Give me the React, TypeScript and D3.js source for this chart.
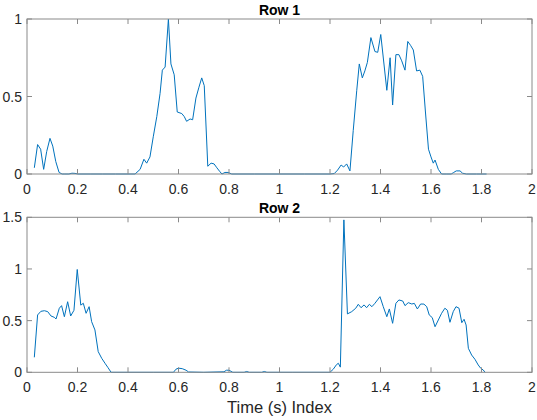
import React from 'react';
import * as d3 from 'd3';

// Sampled signal, row 1 (time in seconds, normalized amplitude)
const row1Time = [
  0.029, 0.042, 0.054, 0.066, 0.078, 0.091, 0.102, 0.114, 0.127, 0.139,
  0.150, 0.166, 0.178, 0.190, 0.202, 0.25, 0.30, 0.35, 0.40, 0.428,
  0.448, 0.463, 0.474, 0.487, 0.500, 0.514, 0.527, 0.536, 0.547, 0.560,
  0.570, 0.583, 0.595, 0.613, 0.623, 0.632, 0.646, 0.656, 0.669, 0.681,
  0.692, 0.702, 0.716, 0.729, 0.741, 0.752, 0.764, 0.772, 0.784, 0.796,
  0.811, 0.9, 1.0, 1.1, 1.200, 1.217, 1.230, 1.244, 1.254, 1.266,
  1.279, 1.292, 1.306, 1.316, 1.328, 1.338, 1.348, 1.362, 1.378, 1.389,
  1.401, 1.425, 1.438, 1.448, 1.461, 1.473, 1.484, 1.497, 1.508, 1.519,
  1.530, 1.543, 1.556, 1.567, 1.578, 1.590, 1.600, 1.609, 1.616, 1.629,
  1.642, 1.66, 1.68, 1.69, 1.70, 1.715, 1.725, 1.74, 1.78, 1.82,
];
const row1Value = [
  0.04, 0.19, 0.16, 0.03, 0.145, 0.23, 0.18, 0.08, 0.01, 0.0,
  0.0, 0.0, 0.005, 0.004, 0.0, 0.0, 0.0, 0.0, 0.0, 0.0,
  0.03, 0.095, 0.07, 0.11, 0.24, 0.37, 0.52, 0.67, 0.69, 1.0,
  0.71, 0.64, 0.40, 0.39, 0.37, 0.34, 0.355, 0.35, 0.49, 0.56,
  0.62, 0.57, 0.05, 0.07, 0.065, 0.04, 0.015, 0.0, 0.01, 0.01,
  0.0, 0.0, 0.0, 0.0, 0.0, 0.003, 0.025, 0.058, 0.045, 0.065,
  0.02, 0.28, 0.54, 0.71, 0.62, 0.665, 0.72, 0.88, 0.79, 0.785,
  0.90, 0.54, 0.75, 0.445, 0.77, 0.77, 0.73, 0.67, 0.855, 0.83,
  0.80, 0.665, 0.67, 0.63, 0.40, 0.16, 0.11, 0.07, 0.09, 0.03,
  0.0, 0.0, 0.0, 0.01, 0.02, 0.02, 0.005, 0.0, 0.0, 0.0,
];

// Sampled signal, row 2
const row2Time = [
  0.029, 0.042, 0.055, 0.069, 0.082, 0.095, 0.108, 0.115, 0.128, 0.137,
  0.148, 0.161, 0.173, 0.186, 0.199, 0.213, 0.223, 0.234, 0.246, 0.256,
  0.269, 0.282, 0.296, 0.309, 0.320, 0.333, 0.40, 0.50, 0.58, 0.59,
  0.60, 0.615, 0.63, 0.64, 0.70, 0.78, 0.79, 0.80, 0.815, 0.86,
  0.87, 0.88, 0.93, 0.94, 0.95, 1.05, 1.200, 1.213, 1.226, 1.233,
  1.241, 1.255, 1.269, 1.286, 1.302, 1.312, 1.323, 1.335, 1.345, 1.356,
  1.366, 1.378, 1.388, 1.398, 1.411, 1.425, 1.435, 1.448, 1.461, 1.473,
  1.488, 1.497, 1.510, 1.524, 1.534, 1.546, 1.559, 1.572, 1.583, 1.593,
  1.605, 1.616, 1.629, 1.642, 1.655, 1.665, 1.675, 1.688, 1.699, 1.711,
  1.722, 1.731, 1.739, 1.748, 1.761, 1.774, 1.787, 1.797, 1.807, 1.814,
];
const row2Value = [
  0.145, 0.555, 0.59, 0.596, 0.587, 0.545, 0.532, 0.516, 0.62, 0.645,
  0.538, 0.683, 0.545, 0.60, 0.995, 0.65, 0.668, 0.571, 0.635, 0.49,
  0.41, 0.20, 0.135, 0.087, 0.048, 0.0, 0.0, 0.0, 0.0, 0.03,
  0.04, 0.035, 0.02, 0.003, 0.0, 0.005, 0.02, 0.02, 0.0, 0.0,
  0.008, 0.0, 0.0, 0.008, 0.0, 0.0, 0.0, 0.03, 0.075, 0.087,
  0.05, 1.475, 0.565, 0.587, 0.62, 0.658, 0.625, 0.652, 0.625, 0.658,
  0.635, 0.668, 0.70, 0.732, 0.635, 0.538, 0.613, 0.474, 0.668, 0.70,
  0.69, 0.645, 0.674, 0.661, 0.667, 0.613, 0.661, 0.66, 0.635, 0.555,
  0.529, 0.441, 0.506, 0.571, 0.62, 0.60, 0.484, 0.587, 0.635, 0.62,
  0.48, 0.513, 0.458, 0.232, 0.167, 0.126, 0.071, 0.039, 0.022, 0.0,
];

const xTicks = [0, 0.2, 0.4, 0.6, 0.8, 1, 1.2, 1.4, 1.6, 1.8, 2];
const row1YTicks = [0, 0.5, 1];
const row2YTicks = [0, 0.5, 1, 1.5];
const row1Title = 'Row 1';
const row2Title = 'Row 2';
const xAxisLabel = 'Time (s) Index';

const WIDTH = 537;
const HEIGHT = 420;
const LEFT = 27;
const RIGHT = 532;
const TICK_LEN = 5;
const AXIS_COLOR = '#262626';
const BOX_COLOR = '#8a8a8a';
const LINE_COLOR = '#0072BD';
const FONT = '"Liberation Sans", Arial, Helvetica, sans-serif';

type PanelProps = {
  top: number;
  bottom: number;
  yMax: number;
  yTicks: number[];
  times: number[];
  values: number[];
  title: string;
};

function Panel({ top, bottom, yMax, yTicks, times, values, title }: PanelProps) {
  const x = d3.scaleLinear().domain([0, 2]).range([LEFT, RIGHT]);
  const y = d3.scaleLinear().domain([0, yMax]).range([bottom, top]);
  const path = d3
    .line<number>()
    .x((_, i) => x(times[i]))
    .y((d) => y(d))(values);

  return (
    <g>
      <path d={path ?? ''} fill="none" stroke={LINE_COLOR} strokeWidth={1} strokeLinejoin="round" />
      <rect
        x={LEFT}
        y={top}
        width={RIGHT - LEFT}
        height={bottom - top}
        fill="none"
        stroke={BOX_COLOR}
        strokeWidth={1}
      />
      {xTicks.map((t) => (
        <g key={`x${t}`}>
          <line x1={x(t)} x2={x(t)} y1={bottom} y2={bottom - TICK_LEN} stroke={BOX_COLOR} />
          <line x1={x(t)} x2={x(t)} y1={top} y2={top + TICK_LEN} stroke={BOX_COLOR} />
          <text
            x={x(t)}
            y={bottom + 20}
            textAnchor="middle"
            fontFamily={FONT}
            fontSize={14}
            fill={AXIS_COLOR}
          >
            {String(t)}
          </text>
        </g>
      ))}
      {yTicks.map((t) => (
        <g key={`y${t}`}>
          <line x1={LEFT} x2={LEFT + TICK_LEN} y1={y(t)} y2={y(t)} stroke={BOX_COLOR} />
          <line x1={RIGHT} x2={RIGHT - TICK_LEN} y1={y(t)} y2={y(t)} stroke={BOX_COLOR} />
          <text
            x={LEFT - 5}
            y={y(t)}
            dy="0.36em"
            textAnchor="end"
            fontFamily={FONT}
            fontSize={14}
            fill={AXIS_COLOR}
          >
            {String(t)}
          </text>
        </g>
      ))}
      <text
        x={(LEFT + RIGHT) / 2}
        y={top - 4}
        textAnchor="middle"
        fontFamily={FONT}
        fontSize={14}
        fontWeight="bold"
        fill="#000"
      >
        {title}
      </text>
    </g>
  );
}

export default function App() {
  return (
    <svg
      width={WIDTH}
      height={HEIGHT}
      viewBox={`0 0 ${WIDTH} ${HEIGHT}`}
      style={{ position: 'absolute', left: 0, top: 0, background: '#fff' }}
    >
      <rect x={0} y={0} width={WIDTH} height={HEIGHT} fill="#fff" />
      <Panel
        top={19}
        bottom={174}
        yMax={1}
        yTicks={row1YTicks}
        times={row1Time}
        values={row1Value}
        title={row1Title}
      />
      <Panel
        top={217.3}
        bottom={372.3}
        yMax={1.5}
        yTicks={row2YTicks}
        times={row2Time}
        values={row2Value}
        title={row2Title}
      />
      <text
        x={(LEFT + RIGHT) / 2}
        y={413}
        textAnchor="middle"
        fontFamily={FONT}
        fontSize={16.5}
        fill={AXIS_COLOR}
      >
        {xAxisLabel}
      </text>
    </svg>
  );
}
